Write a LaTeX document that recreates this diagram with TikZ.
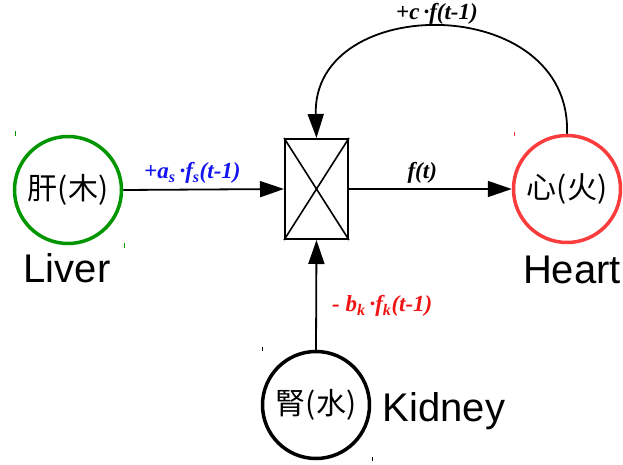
\documentclass[tikz,border=0pt]{standalone}
\usepackage{fontspec}
\setmainfont{Liberation Serif}
\newfontfamily\cjkf{Noto Sans CJK SC}
\newfontfamily\arialf{Liberation Sans}
\usetikzlibrary{arrows.meta}
\definecolor{livergreen}{RGB}{0,150,0}
\definecolor{heartred}{RGB}{250,60,60}
\definecolor{lblblue}{RGB}{20,20,240}
\definecolor{lblred}{RGB}{240,20,20}
\newcommand{\mdot}{\hspace{4pt}·}
\begin{document}
\begin{tikzpicture}[x=1pt,y=-1pt,
  organ/.style={circle,draw,line width=3.5pt,minimum size=107pt,inner sep=0pt,font=\cjkf\fontsize{30}{32}\selectfont},
  mixbox/.style={draw,line width=2pt,minimum width=63pt,minimum height=100pt,inner sep=0pt},
  arr/.style={line width=1.8pt,-{Triangle[length=24pt,width=16pt]}},
  lbl/.style={font=\bfseries\itshape\fontsize{23}{25}\selectfont,inner sep=2pt},
  organname/.style={font=\arialf\fontsize{40}{42}\selectfont,inner sep=0pt},
  tickmark/.style={line width=0.8pt}]
\useasboundingbox (0,0) rectangle (623,465);
\node[organ,draw=livergreen] (liver) at (68,190) {肝(木)};
\node[organ,draw=heartred] (heart) at (567,189) {心(火)};
\node[organ,draw=black] (kidney) at (316,405) {腎(水)};
\node[mixbox] (box) at (316.5,189) {};
\draw[line width=1.6pt] (box.north west) -- (box.south east) (box.north east) -- (box.south west);
\draw[arr] (liver.east) -- (box.west) node[pos=0.43,above=3pt,lbl,text=lblblue] {+a\textsubscript{s}\mdot f\textsubscript{s}(t-1)};
\draw[arr] (box.east) -- (heart.west) node[pos=0.45,above=3pt,lbl] {f(t)};
\draw[arr] (kidney.north) -- (box.south) node[pos=0.4,anchor=west,xshift=13pt,lbl,text=lblred] {- b\textsubscript{k}\mdot f\textsubscript{k}(t-1)};
\draw[arr] (heart.north) .. controls (572,-8) and (312,-8) .. (box.north);
\node[lbl] (clbl) at (437,14) {+c\mdot f(t-1)};
\node[organname] (livern) at (67,268) {Liver};
\node[organname] (heartn) at (572,270) {Heart};
\node[organname] (kidneyn) at (444,411) {Kidney};
\draw[tickmark,livergreen] (15,131) -- (15,136);
\draw[tickmark,livergreen] (124,243) -- (124,248);
\draw[tickmark,heartred] (514,132) -- (514,136);
\draw[tickmark] (262,347) -- (262,351);
\draw[tickmark] (372,457) -- (372,461);
\end{tikzpicture}
\end{document}
